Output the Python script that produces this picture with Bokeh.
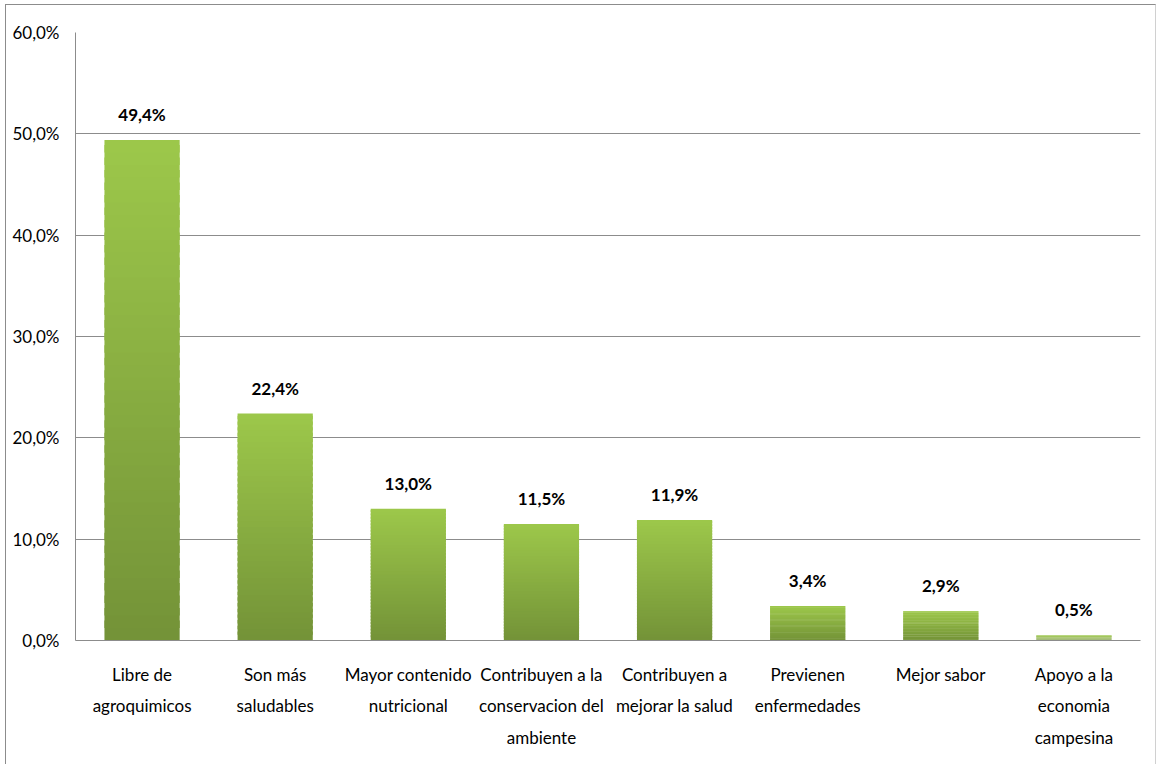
from bokeh.plotting import figure
from bokeh.models import (ColumnDataSource, FixedTicker, LabelSet, Range1d, FactorRange,
                          CategoricalAxis, CustomJSTickFormatter)
from bokeh.core.properties import value
from bokeh.embed import file_html
from bokeh.resources import INLINE

categories = ["Libre de agroquimicos", "Son más saludables", "Mayor contenido nutricional",
              "Contribuyen a la conservacion del ambiente", "Contribuyen a mejorar la salud",
              "Previenen enfermedades", "Mejor sabor", "Apoyo a la economia campesina"]
label_line1 = ["Libre de", "Son más", "Mayor contenido", "Contribuyen a la", "Contribuyen a",
               "Previenen", "Mejor sabor", "Apoyo a la"]
label_line2 = ["agroquimicos", "saludables", "nutricional", "conservacion del",
               "mejorar la salud", "enfermedades", "", "economia"]
label_line3 = ["", "", "", "ambiente", "", "", "", "campesina"]
values = [49.4, 22.4, 13.0, 11.5, 11.9, 3.4, 2.9, 0.5]
value_labels = ["49,4%", "22,4%", "13,0%", "11,5%", "11,9%", "3,4%", "2,9%", "0,5%"]
y_ticks = [0, 10, 20, 30, 40, 50, 60]
y_tick_labels = ["0,0%", "10,0%", "20,0%", "30,0%", "40,0%", "50,0%", "60,0%"]

FONT = "Lato"
FS = "17px"

p = figure(x_range=FactorRange(*categories, range_padding=0), y_range=Range1d(0, 60),
           width=1151, height=760, output_backend="svg", toolbar_location=None,
           min_border_left=69, min_border_right=17, min_border_top=27, min_border_bottom=125)
p.styles = {"margin-left": "5px", "margin-top": "4px",
            "border-top": "1px solid #8c8c8c", "border-left": "1px solid #8c8c8c",
            "border-right": "1px solid #d0d0d0"}
p.outline_line_color = None
p.background_fill_color = "white"

# gradient bars: stacked slices with colors from light (top) to dark (bottom)
N = 40
top_rgb = (0x9D, 0xC8, 0x4B)
bot_rgb = (0x74, 0x93, 0x38)
xs, bottoms, tops, colors = [], [], [], []
for c, v in zip(categories, values):
    for i in range(N):
        f = (i + 0.5) / N
        r = int(bot_rgb[0] + (top_rgb[0] - bot_rgb[0]) * f)
        g = int(bot_rgb[1] + (top_rgb[1] - bot_rgb[1]) * f)
        b = int(bot_rgb[2] + (top_rgb[2] - bot_rgb[2]) * f)
        xs.append(c)
        bottoms.append(v * i / N)
        tops.append(v * min(i + 1.6, N) / N)
        colors.append("#%02x%02x%02x" % (r, g, b))
src = ColumnDataSource(dict(x=xs, bottom=bottoms, top=tops, color=colors))
p.vbar(x="x", bottom="bottom", top="top", width=0.565, fill_color="color",
       line_color=None, source=src)

lab_src = ColumnDataSource(dict(x=categories, y=values, t=value_labels))
p.add_layout(LabelSet(x="x", y="y", text="t", source=lab_src, y_offset=15,
                      text_align="center", text_baseline="bottom",
                      text_font=value(FONT), text_font_size=value(FS),
                      text_font_style="bold", text_color="#000000"))

p.yaxis.ticker = FixedTicker(ticks=y_ticks)
p.yaxis.major_label_overrides = {t: l for t, l in zip(y_ticks, y_tick_labels)}
p.yaxis.major_tick_line_color = None
p.yaxis.major_tick_out = 0
p.yaxis.minor_tick_line_color = None
p.yaxis.axis_line_color = "#8c8c8c"
p.yaxis.major_label_text_font = FONT
p.yaxis.major_label_text_font_size = FS
p.yaxis.major_label_text_color = "#000000"
p.yaxis.major_label_standoff = 16


def style_xaxis(ax, lines, standoff, line_color):
    ax.formatter = CustomJSTickFormatter(
        args=dict(cats=categories, labs=lines),
        code="const i = cats.indexOf(tick); return i >= 0 ? labs[i] : '';")
    ax.major_tick_line_color = None
    ax.major_tick_out = 0
    ax.major_tick_in = 0
    ax.minor_tick_line_color = None
    ax.axis_line_color = line_color
    ax.major_label_text_font = FONT
    ax.major_label_text_font_size = FS
    ax.major_label_text_color = "#000000"
    ax.major_label_standoff = standoff
    ax.major_label_orientation = "horizontal"


style_xaxis(p.xaxis[0], label_line1, 23, "#8c8c8c")
ax2 = CategoricalAxis()
style_xaxis(ax2, label_line2, 7, None)
p.add_layout(ax2, "below")
ax3 = CategoricalAxis()
style_xaxis(ax3, label_line3, 8, None)
p.add_layout(ax3, "below")

p.xgrid.grid_line_color = None
p.ygrid.ticker = FixedTicker(ticks=y_ticks)
p.ygrid.grid_line_color = "#8c8c8c"
p.ygrid.grid_line_width = 1

open("out.html", "w").write(file_html(p, INLINE))
